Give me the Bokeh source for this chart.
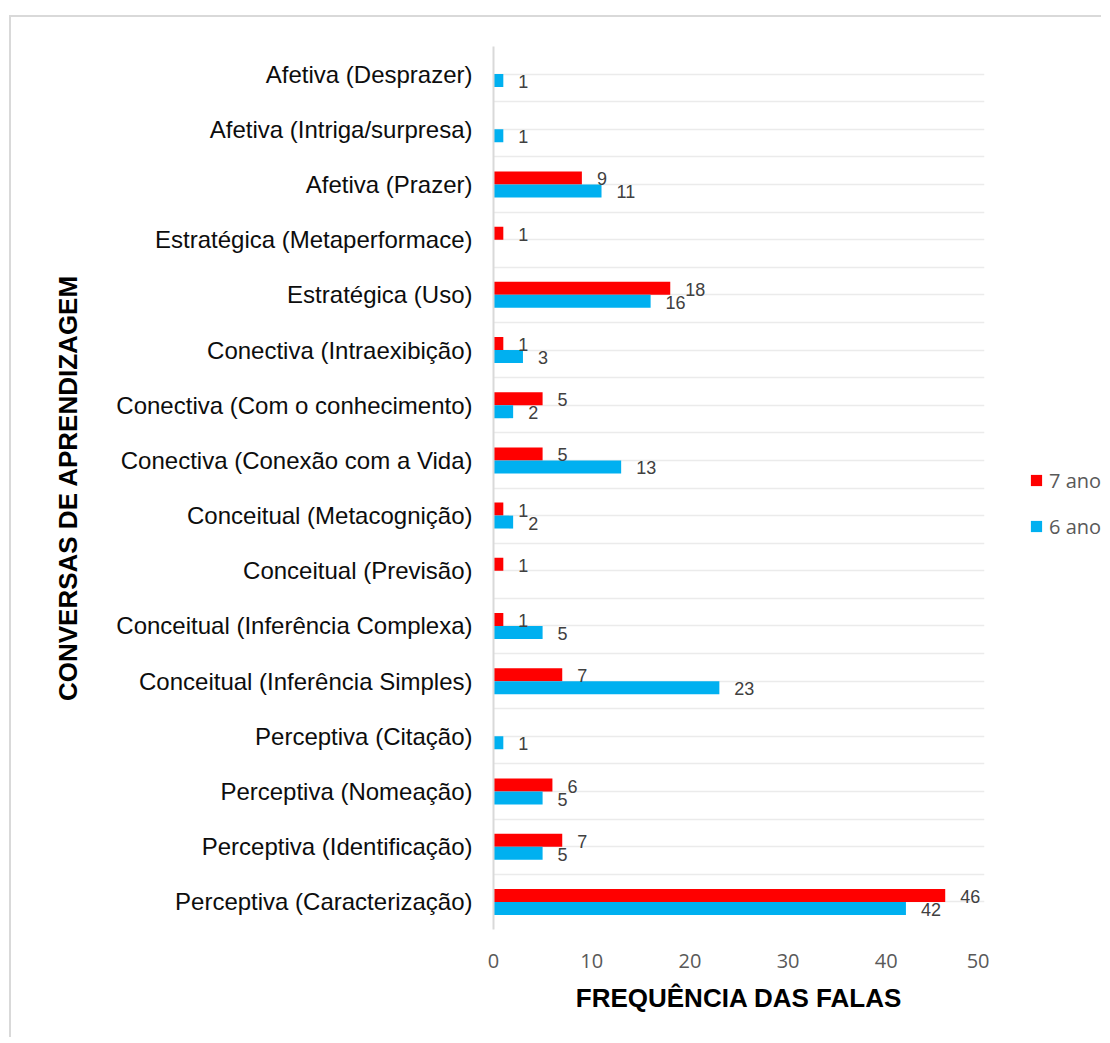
from bokeh.plotting import figure
from bokeh.layouts import row
from bokeh.models import (ColumnDataSource, Range1d, FixedTicker, LabelSet, Legend,
                          LegendItem, Grid)
from bokeh.core.properties import value
from bokeh.embed import file_html
from bokeh.resources import INLINE

# ---- data (top to bottom as shown) ----
categories = [
    "Afetiva (Desprazer)",
    "Afetiva (Intriga/surpresa)",
    "Afetiva (Prazer)",
    "Estratégica (Metaperformace)",
    "Estratégica (Uso)",
    "Conectiva (Intraexibição)",
    "Conectiva (Com o conhecimento)",
    "Conectiva (Conexão com a Vida)",
    "Conceitual (Metacognição)",
    "Conceitual (Previsão)",
    "Conceitual (Inferência Complexa)",
    "Conceitual (Inferência Simples)",
    "Perceptiva (Citação)",
    "Perceptiva (Nomeação)",
    "Perceptiva (Identificação)",
    "Perceptiva (Caracterização)",
]
ano7 = [0, 0, 9, 1, 18, 1, 5, 5, 1, 1, 1, 7, 0, 6, 7, 46]
ano6 = [1, 1, 11, 0, 16, 3, 2, 13, 2, 0, 5, 23, 1, 5, 5, 42]
series_names = ["7 ano", "6 ano"]
x_ticks = [0, 10, 20, 30, 40, 50]

RED = "#ff0000"
BLUE = "#00b0f0"
n = len(categories)
pos = [n - i for i in range(n)]          # category centres, top = n
bh = 0.235                                # bar thickness in category units

red_src = ColumnDataSource(dict(y=[p_ + bh / 2 for p_ in pos], v=ano7))
blue_src = ColumnDataSource(dict(y=[p_ - bh / 2 for p_ in pos], v=ano6))
red_lab = ColumnDataSource(dict(
    y=[p_ + bh / 2 for p_, v in zip(pos, ano7) if v],
    v=[v for v in ano7 if v], t=[str(v) for v in ano7 if v]))
blue_lab = ColumnDataSource(dict(
    y=[p_ - bh / 2 for p_, v in zip(pos, ano6) if v],
    v=[v for v in ano6 if v], t=[str(v) for v in ano6 if v]))

H = 1020
FL, FW, FT, FH = 482, 491, 29, 883
WP = FL + FW + 5
WQ = 112

p = figure(width=WP, height=H, output_backend="svg", toolbar_location=None,
           x_range=Range1d(0, 50), y_range=Range1d(0.5, n + 0.5),
           min_border_left=FL, min_border_right=WP - FL - FW,
           min_border_top=FT, min_border_bottom=H - FT - FH)
p.outline_line_color = None
p.background_fill_color = "white"
p.border_fill_color = "white"

p.hbar(y="y", right="v", left=0, height=bh, source=red_src,
       fill_color=RED, line_color=None)
p.hbar(y="y", right="v", left=0, height=bh, source=blue_src,
       fill_color=BLUE, line_color=None)

for src in (red_lab, blue_lab):
    p.add_layout(LabelSet(x="v", y="y", text="t", source=src, x_offset=15, y_offset=-1,
                          text_baseline="middle", text_align="left",
                          text_font=value("Liberation Sans"), text_font_size="18px",
                          text_color="#404040"))

# grids
p.xgrid.visible = False
p.ygrid.visible = False
half = [0.5 + 0.5 * k for k in range(2 * n + 1)]
p.add_layout(Grid(dimension=1, ticker=FixedTicker(ticks=half),
                  grid_line_color="#ebebeb", grid_line_width=1.5))

# y axis
ya = p.yaxis[0]
ya.ticker = FixedTicker(ticks=pos)
ya.major_label_overrides = {p_: c for p_, c in zip(pos, categories)}
ya.major_tick_line_color = None
ya.minor_tick_line_color = None
ya.axis_line_color = "#d9d9d9"
ya.axis_line_width = 2
ya.major_label_text_font = "Liberation Sans"
ya.major_label_text_font_size = "24px"
ya.major_label_text_color = "#0d0d0d"
ya.major_label_standoff = 15
ya.axis_label = "CONVERSAS DE APRENDIZAGEM"
ya.axis_label_text_font = "Liberation Sans"
ya.axis_label_text_font_style = "bold"
ya.axis_label_text_font_size = "26px"
ya.axis_label_text_color = "#000000"
ya.axis_label_standoff = 30

# x axis
xa = p.xaxis[0]
xa.ticker = FixedTicker(ticks=x_ticks)
xa.major_tick_line_color = None
xa.minor_tick_line_color = None
xa.axis_line_color = None
xa.major_label_text_font = "Open Sans"
xa.major_label_text_font_size = "20px"
xa.major_label_text_color = "#595959"
xa.major_label_standoff = 18
xa.axis_label = "FREQUÊNCIA DAS FALAS"
xa.axis_label_text_font = "Liberation Sans"
xa.axis_label_text_font_style = "bold"
xa.axis_label_text_font_size = "26px"
xa.axis_label_text_color = "#000000"
xa.axis_label_standoff = 12

# legend panel (separate small figure to the right of the plot area)
q = figure(width=WQ, height=H, output_backend="svg", toolbar_location=None,
           x_range=Range1d(0, 1), y_range=Range1d(0, 1),
           min_border=0, min_border_left=0, min_border_right=0,
           min_border_top=0, min_border_bottom=0)
q.axis.visible = False
q.grid.visible = False
q.outline_line_color = None
q.background_fill_color = "white"
q.border_fill_color = "white"
# legend-only renderers (hidden; only their legend swatches are drawn)
lr = q.hbar(y=[-5], right=[-4], left=-5, height=0.1, fill_color=RED, line_color=None)
lb = q.hbar(y=[-5], right=[-4], left=-5, height=0.1, fill_color=BLUE, line_color=None)
lr.visible = False
lb.visible = False
legend = Legend(items=[LegendItem(label=series_names[0], renderers=[lr]),
                       LegendItem(label=series_names[1], renderers=[lb])],
                location=(40, 389), margin=0, padding=0, spacing=18,
                glyph_width=14, glyph_height=14, label_height=28,
                label_text_font="Open Sans", label_text_font_size="20px",
                label_text_color="#595959", label_standoff=6,
                inactive_fill_alpha=0,
                border_line_color=None, background_fill_alpha=0)
q.add_layout(legend)

layout = row(p, q)
layout.margin = (15, 0, 0, 9)
layout.styles = {"border-left": "2px solid #d9d9d9", "border-top": "2px solid #d9d9d9"}

open("out.html", "w").write(file_html(layout, INLINE))
